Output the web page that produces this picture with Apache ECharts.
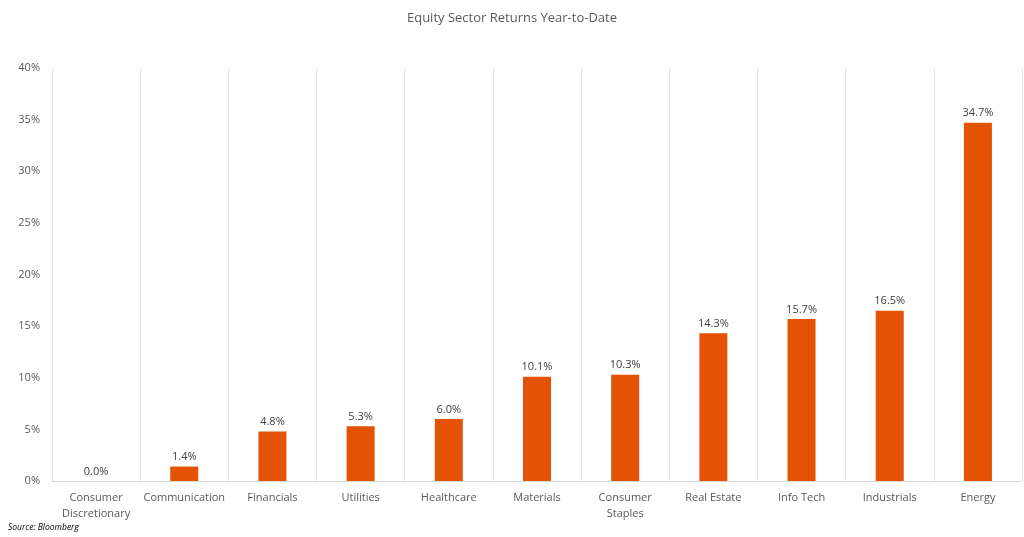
<!DOCTYPE html>
<html>
<head>
    <meta charset="utf-8">
    <script src="https://cdn.jsdelivr.net/npm/echarts@6/dist/echarts.min.js"></script>
    <style>
        html, body { margin: 0; padding: 0; background: #fff; }
    </style>
</head>
<body>
<div id="chart" style="width:1024px;height:537px"></div>
<script>
    var sectors = ['Consumer\nDiscretionary', 'Communication', 'Financials', 'Utilities', 'Healthcare',
        'Materials', 'Consumer\nStaples', 'Real Estate', 'Info Tech', 'Industrials', 'Energy'];
    var returns = [0.0, 1.4, 4.8, 5.3, 6.0, 10.1, 10.3, 14.3, 15.7, 16.5, 34.7];

    var font = '"Open Sans", "Liberation Sans", sans-serif';
    var textColor = '#595959';

    var myChart = echarts.init(document.getElementById('chart'));
    var option = {
        animation: false,
        title: {
            text: 'Equity Sector Returns Year-to-Date',
            left: 'center',
            top: 7,
            textStyle: { fontFamily: font, fontSize: 13, fontWeight: 'normal', color: textColor }
        },
        graphic: [{
            type: 'text',
            left: 8,
            top: 523,
            style: { text: 'Source: Bloomberg', fontFamily: font, fontSize: 8.5, fontStyle: 'italic', fill: '#000' }
        }],
        grid: { left: 52, right: 2, top: 68, bottom: 56, containLabel: false },
        xAxis: {
            type: 'category',
            data: sectors,
            axisLine: { lineStyle: { color: '#d9d9d9' } },
            axisTick: { show: false },
            axisLabel: { fontFamily: font, fontSize: 11, color: textColor, interval: 0, margin: 9, lineHeight: 16 },
            splitLine: { show: true, lineStyle: { color: '#e3e3e3' } }
        },
        yAxis: {
            type: 'value',
            min: 0,
            max: 40,
            interval: 5,
            axisLine: { show: false },
            axisTick: { show: false },
            splitLine: { show: false },
            axisLabel: { fontFamily: font, fontSize: 11, color: textColor, formatter: '{value}%', margin: 12 }
        },
        series: [{
            type: 'bar',
            data: returns,
            barWidth: 28,
            itemStyle: { color: '#E35205' },
            label: {
                show: true,
                position: 'top',
                distance: 4,
                fontFamily: font,
                fontSize: 11,
                color: '#404040',
                formatter: function (p) { return p.value.toFixed(1) + '%'; }
            }
        }]
    };
    myChart.setOption(option);
</script>
</body>
</html>
